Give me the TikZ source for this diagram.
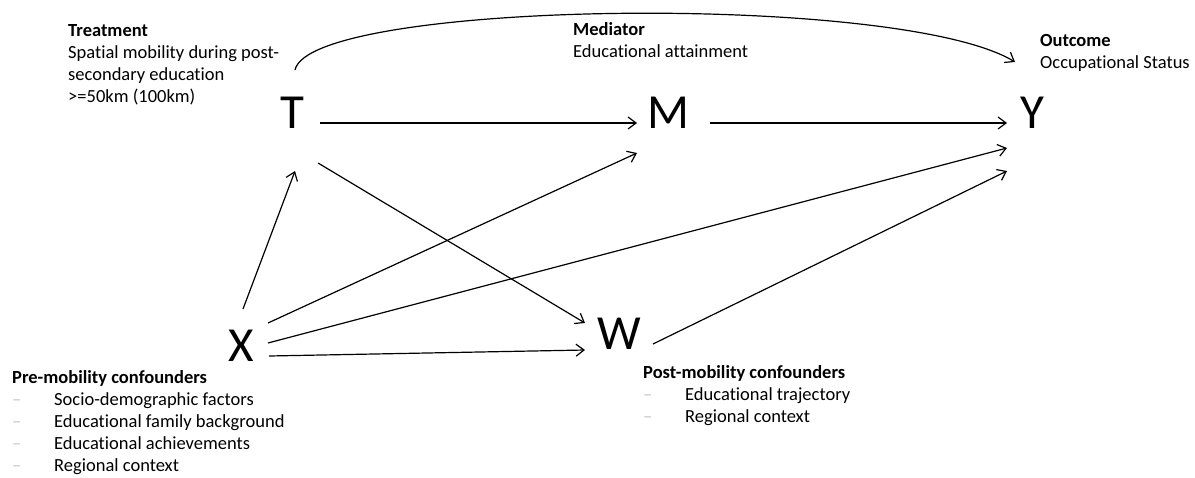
\documentclass[tikz,border=0pt]{standalone}
\usepackage{fontspec}
\setmainfont{Carlito}[Ligatures=NoCommon]
\usepackage{xcolor}
\usetikzlibrary{arrows.meta}

\newcommand{\fl}{\rule{0pt}{14pt}}
\newcommand{\itm}{\makebox[42pt][l]{\textcolor{gray!45}{--}}}

\begin{document}
\begin{tikzpicture}[x=1pt,y=-1pt,
  var/.style={font=\fontsize{49}{49}\selectfont,inner sep=0pt},
  lbl/.style={font=\fontsize{18.5}{22}\selectfont,align=left,anchor=north west,inner sep=0pt},
  arr/.style={-{Straight Barb[length=8pt,width=12pt]},line width=1.2pt}]
\useasboundingbox (0,0) rectangle (1195,477);
  \node[var] (T) at (292,113) {T};
  \node[var] (M) at (668,113) {M};
  \node[var] (Y) at (1032,113) {Y};
  \node[var] (X) at (241,346) {X};
  \node[var] (W) at (619,334) {W};
  \node[lbl] (treat) at (68,22) {\fl\textbf{Treatment}\\Spatial mobility during post-\\secondary education\\>=50km (100km)};
  \node[lbl] (med) at (573,21) {\fl\textbf{Mediator}\\Educational attainment};
  \node[lbl] (out) at (1040,32) {\fl\textbf{Outcome}\\Occupational Status};
  \node[lbl] (pre) at (12,369) {\fl\textbf{Pre-mobility confounders}\\\itm Socio-demographic factors\\\itm Educational family background\\\itm Educational achievements\\\itm Regional context};
  \node[lbl] (post) at (643,364) {\fl\textbf{Post-mobility confounders}\\\itm Educational trajectory\\\itm Regional context};
  \draw[arr] ([shift={(28,10)}]T.center) -- ([shift={(-31,10)}]M.center);
  \draw[arr] ([shift={(42,10)}]M.center) -- ([shift={(-25,10)}]Y.center);
  \draw[arr] ([shift={(2,-37)}]X.center) -- ([shift={(3,58)}]T.center);
  \draw[arr] ([shift={(26,50)}]T.center) -- ([shift={(-34,-11)}]W.center);
  \draw[arr] ([shift={(27,-23)}]X.center) -- ([shift={(-31,40)}]M.center);
  \draw[arr] ([shift={(27,-3)}]X.center) -- ([shift={(-25,35)}]Y.center);
  \draw[arr] ([shift={(28,10)}]X.center) -- ([shift={(-34,16)}]W.center);
  \draw[arr] ([shift={(34,10)}]W.center) -- ([shift={(-25,58)}]Y.center);
  \draw[arr] ([shift={(3,-43)}]T.center) .. controls +(15,-70) and +(-115,-70) .. ([shift={(-17,-51)}]Y.center);
\end{tikzpicture}
\end{document}
